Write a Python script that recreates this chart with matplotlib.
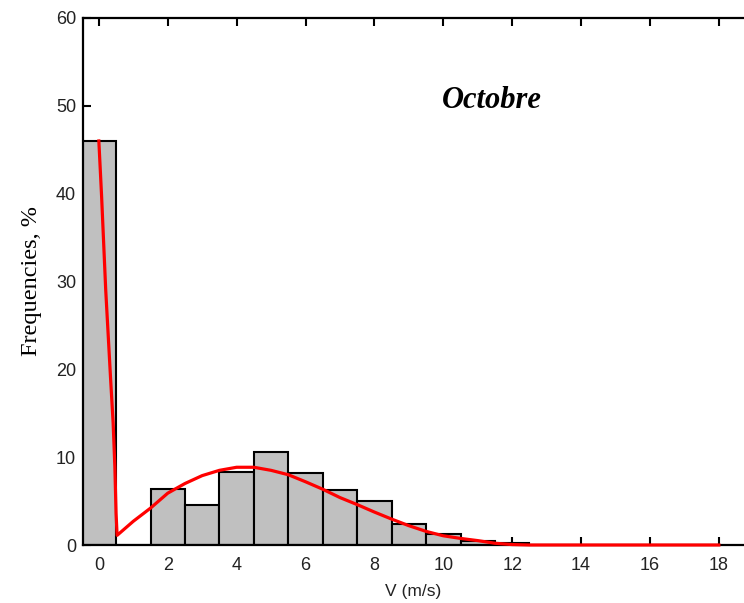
import matplotlib
matplotlib.use("Agg")
import matplotlib.pyplot as plt

# Observed wind-speed frequencies (%), one bin per m/s
speed_bins = [0, 1, 2, 3, 4, 5, 6, 7, 8, 9, 10, 11, 12]
frequencies = [46.0, 0.0, 6.4, 4.55, 8.35, 10.55, 8.15, 6.3, 5.05, 2.4, 1.25, 0.5, 0.2]

# Fitted distribution curve
curve_v = [0.0, 0.08, 0.2, 0.34, 0.415, 0.465, 0.5, 0.53, 1.0, 1.5, 2.0, 2.5,
           3.0, 3.5, 4.0, 4.5, 5.0, 5.5, 6.0, 6.5, 7.0, 7.5, 8.0, 8.5, 9.0,
           9.5, 10.0, 10.5, 11.0, 11.5, 12.0, 12.5, 18.0]
curve_f = [46.0, 39.7, 29.0, 19.0, 13.9, 8.9, 3.6, 1.1, 2.7, 4.2, 5.9, 7.0,
           7.9, 8.5, 8.85, 8.85, 8.5, 8.0, 7.2, 6.35, 5.4, 4.6, 3.75, 2.95, 2.2,
           1.55, 1.05, 0.75, 0.5, 0.2, 0.05, 0.0, 0.0]

x_ticks = list(range(0, 19, 2))
y_ticks = list(range(0, 61, 10))

fig = plt.figure(figsize=(7.44, 6.03), dpi=100)
ax = fig.add_axes([83 / 744, 58 / 603, 1 - 83 / 744, (545 - 18) / 603])

ax.bar(speed_bins, frequencies, width=1.0, color="#c0c0c0",
       edgecolor="black", linewidth=1.5, zorder=2)
ax.plot(curve_v, curve_f, color="red", linewidth=2.3, zorder=4, clip_on=False)

ax.set_xlim(-0.46, 18.73)
ax.set_ylim(0, 60)
ax.set_xticks(x_ticks)
ax.set_yticks(y_ticks)

for side in ("left", "bottom", "top"):
    ax.spines[side].set_linewidth(1.6)
    ax.spines[side].set_color("black")
ax.spines["right"].set_visible(False)

ax.tick_params(axis="x", direction="in", length=6, width=1.5, top=True,
               labeltop=False, pad=9)
ax.tick_params(axis="y", direction="in", length=6, width=1.5, pad=5)
for lab in ax.get_xticklabels() + ax.get_yticklabels():
    lab.set_fontfamily("Liberation Sans")
    lab.set_fontsize(13)
    lab.set_color("#222222")

ax.set_xlabel("V (m/s)", fontfamily="Liberation Sans", fontsize=12.5,
              color="#222222", labelpad=6.5)
ax.set_ylabel("Frequencies, %", fontfamily="Liberation Serif", fontsize=17.5,
              labelpad=10)

ax.text(11.4, 50.6, "Octobre", fontfamily="Liberation Serif", fontsize=22,
        fontweight="bold", fontstyle="italic", ha="center", va="center")

fig.savefig("out.png", dpi=100)
